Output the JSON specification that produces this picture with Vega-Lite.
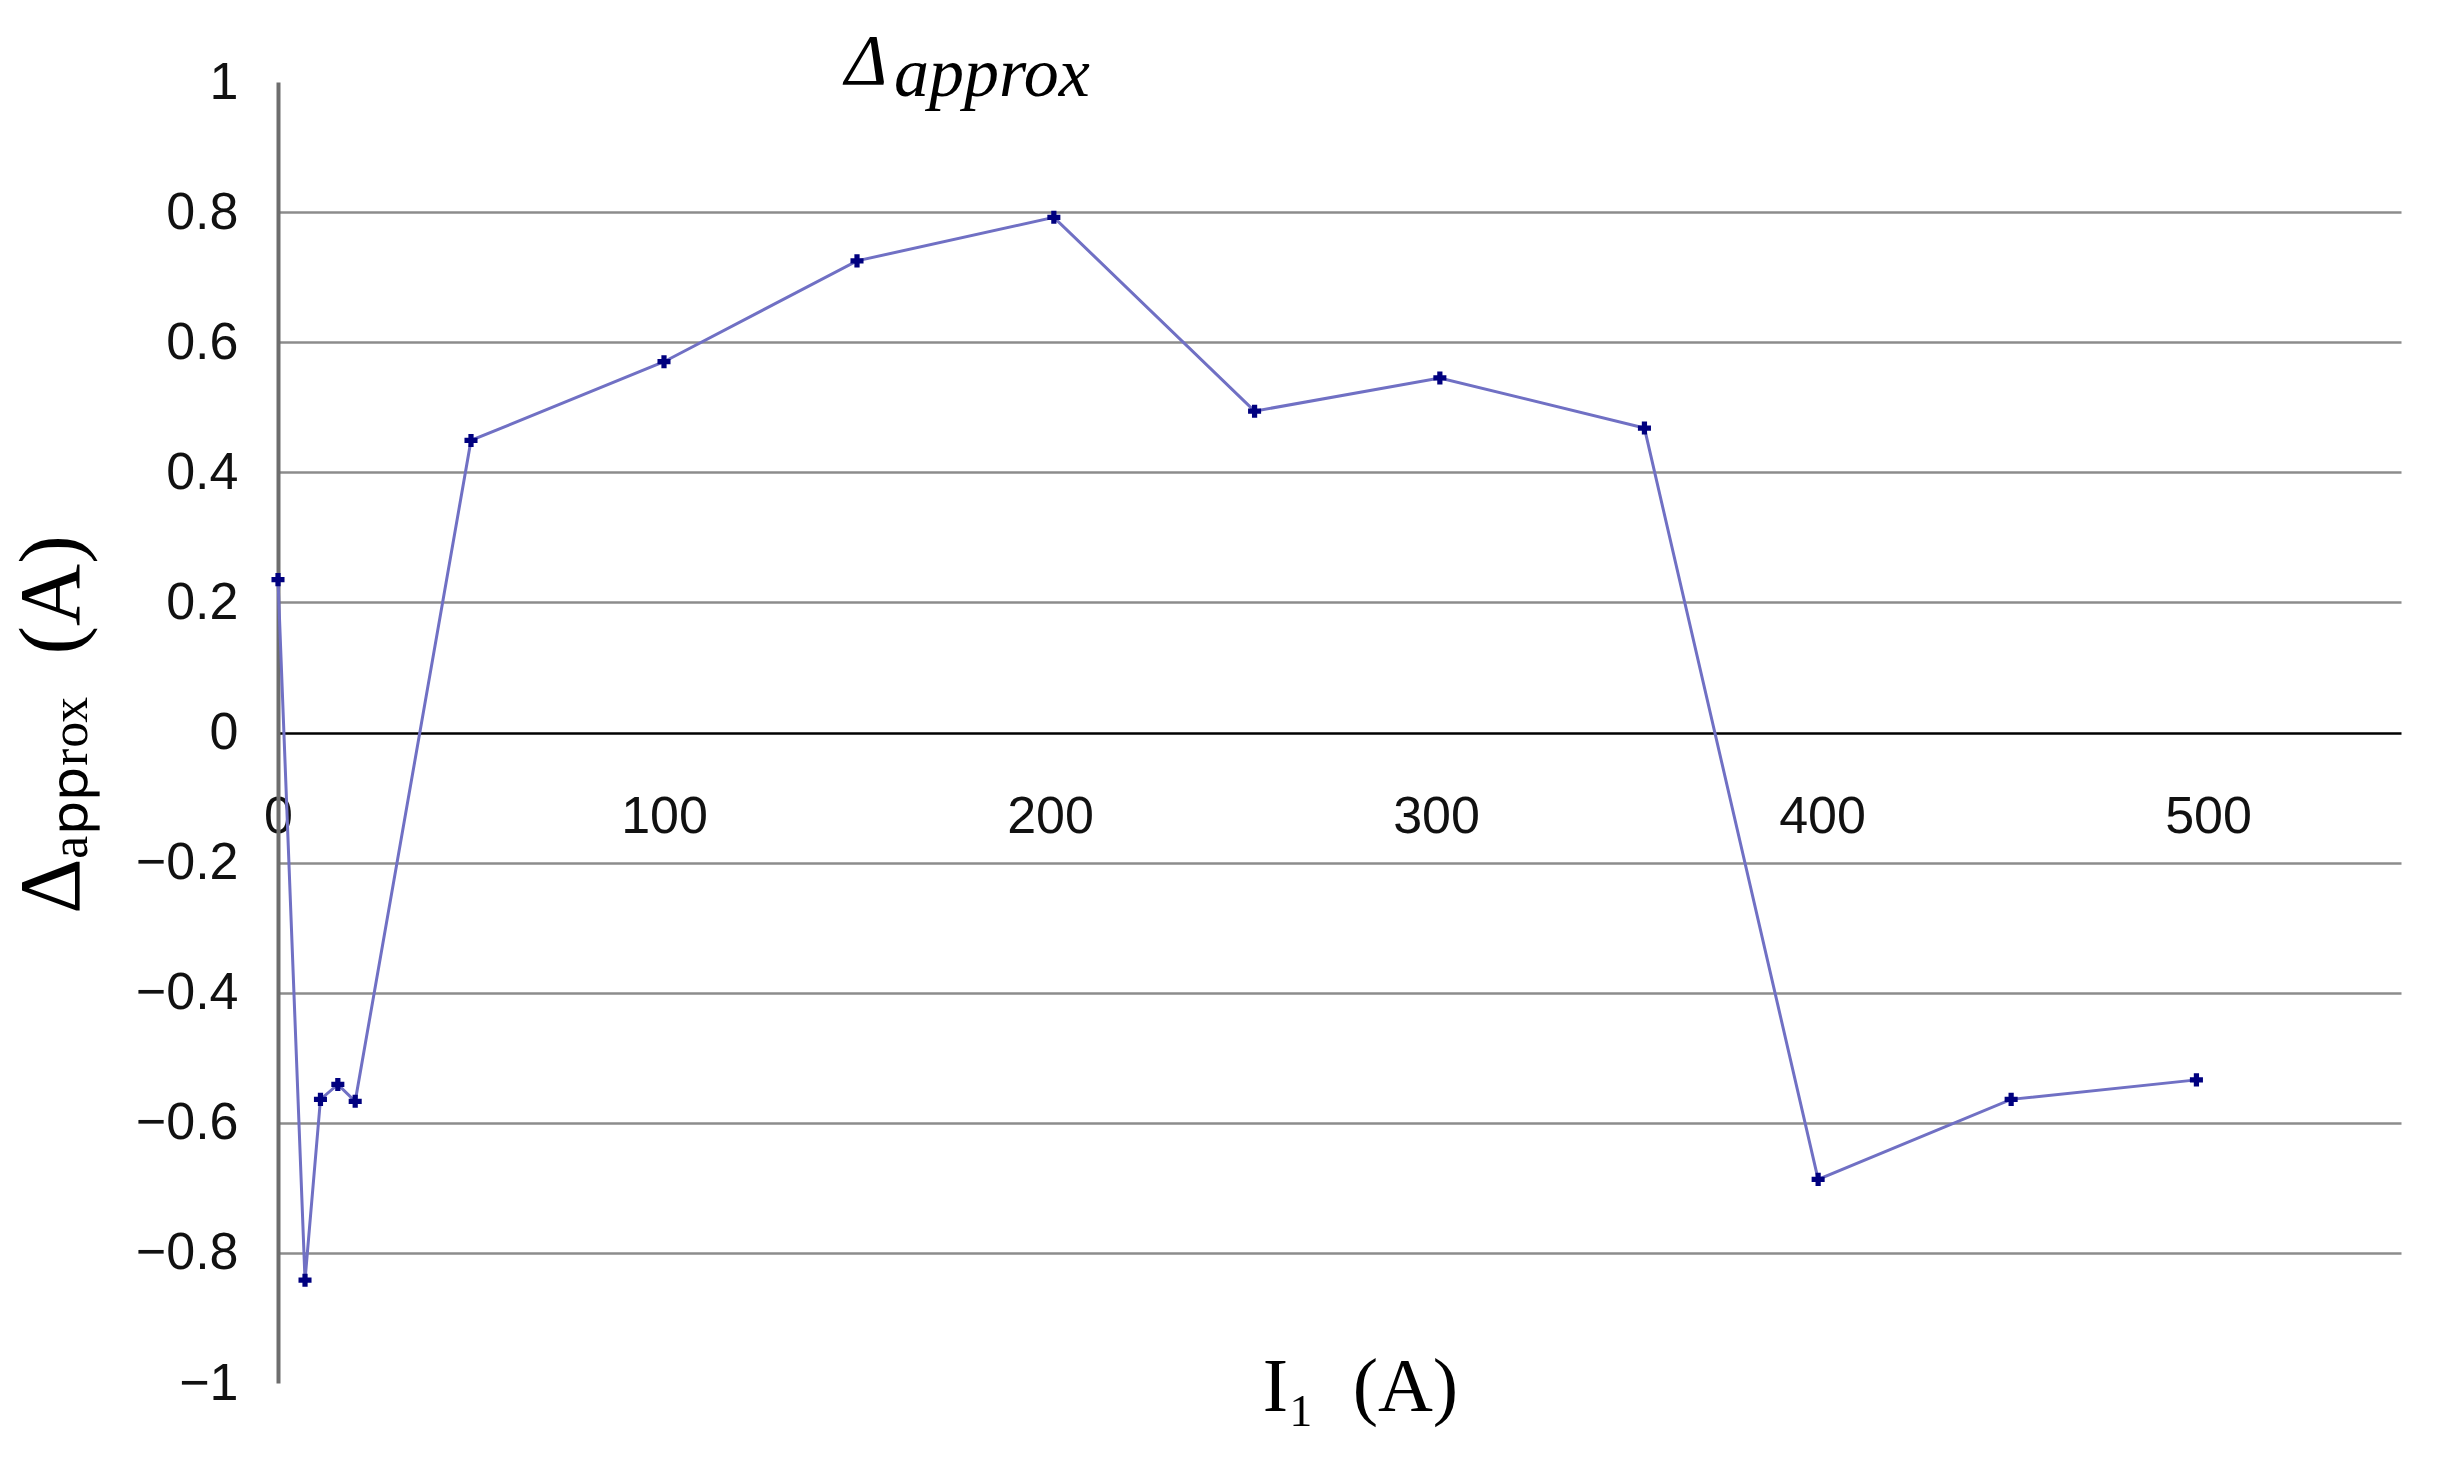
{
  "$schema": "https://vega.github.io/schema/vega-lite/v6.json",
  "width": 2123,
  "height": 1301,
  "autosize": {"type": "none"},
  "padding": {"left": 278, "top": 82, "right": 63, "bottom": 100},
  "background": "white",
  "config": {"view": {"stroke": null}},
  "title": {
    "text": "Δ",
    "subtitle": "\u200b\u2002\u2009approx",
    "anchor": "start",
    "frame": "group",
    "dx": 567,
    "dy": 55,
    "offset": 0,
    "font": "Liberation Serif",
    "fontSize": 72,
    "fontStyle": "italic",
    "fontWeight": "normal",
    "color": "black",
    "subtitleFont": "Liberation Serif",
    "subtitleFontSize": 70,
    "subtitleFontStyle": "italic",
    "subtitleColor": "black",
    "subtitlePadding": -58
  },
  "data": {
    "values": [
      {"I1": 0, "d": 0.235},
      {"I1": 7, "d": -0.842},
      {"I1": 11, "d": -0.564},
      {"I1": 15.5, "d": -0.541},
      {"I1": 20, "d": -0.567},
      {"I1": 50, "d": 0.449},
      {"I1": 100, "d": 0.57},
      {"I1": 150, "d": 0.725},
      {"I1": 201, "d": 0.792},
      {"I1": 253, "d": 0.494},
      {"I1": 301, "d": 0.545},
      {"I1": 354, "d": 0.468},
      {"I1": 399, "d": -0.687},
      {"I1": 449, "d": -0.564},
      {"I1": 497, "d": -0.534}
    ]
  },
  "encoding": {
    "x": {
      "field": "I1",
      "type": "quantitative",
      "scale": {"domain": [0, 550], "nice": false, "zero": false},
      "axis": {
        "title": "I₁\u2002(A)",
        "titleFont": "Liberation Serif",
        "titleFontSize": 76,
        "titleFontWeight": "normal",
        "titleColor": "black",
        "titleX": 1082,
        "titleY": 27,
        "titleBaseline": "alphabetic",
        "titleAlign": "center",
        "domain": false,
        "ticks": false,
        "grid": false,
        "values": [0, 100, 200, 300, 400, 500],
        "format": "d",
        "labelFlush": false,
        "labelPadding": -592,
        "labelFont": "Liberation Sans",
        "labelFontSize": 52,
        "labelColor": "#111111"
      }
    },
    "y": {
      "field": "d",
      "type": "quantitative",
      "scale": {"domain": [-1, 1], "nice": false},
      "axis": {
        "title": "Δₐₚₚᵣₒₓ\u2002(A)",
        "titleFont": "Liberation Serif",
        "titleFontSize": 86,
        "titleFontWeight": "normal",
        "titleColor": "black",
        "titleX": -200,
        "titleY": 642,
        "titleAngle": -90,
        "titleBaseline": "alphabetic",
        "titleAlign": "center",
        "values": [-1, -0.8, -0.6, -0.4, -0.2, 0, 0.2, 0.4, 0.6, 0.8, 1],
        "format": "~g",
        "labelFont": "Liberation Sans",
        "labelFontSize": 52,
        "labelColor": "#111111",
        "labelPadding": 40,
        "ticks": false,
        "domainColor": "#6e6e6e",
        "domainWidth": 4,
        "grid": true,
        "gridWidth": 2.5,
        "gridColor": {"condition": {"test": "datum.value === 0", "value": "#000000"}, "value": "#8c8c8c"},
        "gridOpacity": {"condition": {"test": "abs(datum.value) > 0.99", "value": 0}, "value": 1}
      }
    }
  },
  "layer": [
    {"mark": {"type": "line", "color": "#7070c4", "strokeWidth": 3}},
    {"mark": {"type": "point", "shape": "cross", "filled": true, "color": "#00007f", "size": 170, "opacity": 1}}
  ]
}
